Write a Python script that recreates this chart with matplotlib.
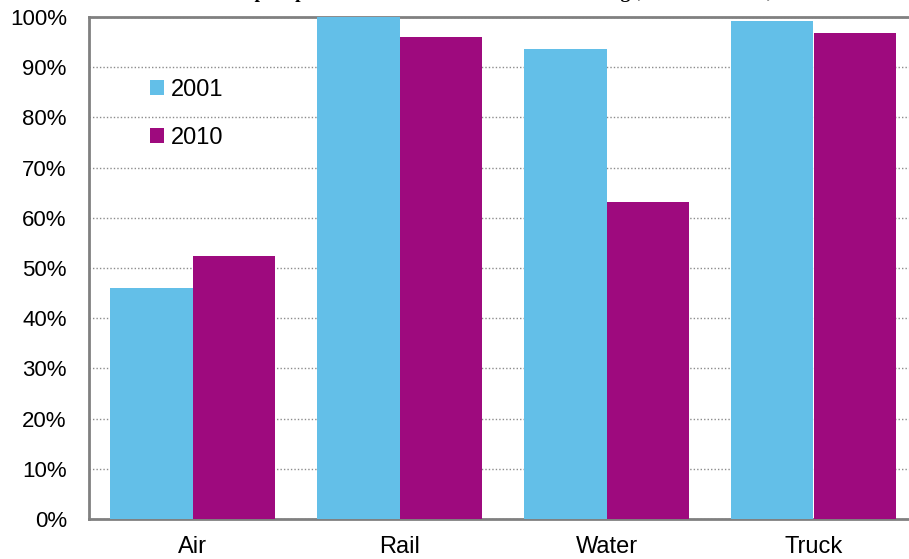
import matplotlib
matplotlib.use("Agg")
import matplotlib.pyplot as plt
from matplotlib.ticker import PercentFormatter
import numpy as np

categories = ["Air", "Rail", "Water", "Truck"]
years = ["2001", "2010"]
values_2001 = [46.0, 100.0, 93.6, 99.2]
values_2010 = [52.4, 96.0, 63.1, 96.8]
colors = ["#63BFE8", "#9E0A7E"]
title = "Figure 4: Share of carriers that report prices to the Board in their annual filings, 2001 and 2010, all modes"

W, H = 909, 559
fig = plt.figure(figsize=(W / 100, H / 100), dpi=100)
ax = fig.add_axes([89 / W, 40 / H, 828 / W, 502 / H])

x = np.arange(len(categories))
bw = 0.4
ax.bar(x - bw / 2, values_2001, width=bw, color=colors[0], label=years[0], zorder=3)
ax.bar(x + bw / 2, values_2010, width=bw, color=colors[1], label=years[1], zorder=3)

ax.set_xlim(-0.5, 3.5)
ax.set_ylim(0, 100)
ax.set_yticks(np.arange(0, 101, 10))
ax.yaxis.set_major_formatter(PercentFormatter(decimals=0))
ax.set_xticks(x)
ax.set_xticklabels(categories)
ax.tick_params(axis="both", length=0, colors="black")
ax.tick_params(axis="y", labelsize=16, pad=16)
ax.tick_params(axis="x", labelsize=17, pad=12)
for lab in ax.get_xticklabels() + ax.get_yticklabels():
    lab.set_fontfamily("Liberation Sans")

ax.grid(axis="y", linestyle=(0, (1, 1.5)), color="#8c8c8c", linewidth=1, zorder=0)
for s in ["left", "bottom", "top", "right"]:
    ax.spines[s].set_color("#808080")
    ax.spines[s].set_linewidth(2)

leg = ax.legend(loc="upper left", bbox_to_anchor=(0.062, 0.895), frameon=False,
                prop={"family": "Liberation Sans", "size": 17},
                handlelength=0.6, handleheight=0.6, handletextpad=0.3,
                labelspacing=1.1, borderaxespad=0)

fig.text(-0.03, 1.0 + 2.0 / H, title, ha="left", va="baseline",
         fontsize=14, fontweight="bold", family="Liberation Serif")

fig.savefig("out.png", dpi=100)
